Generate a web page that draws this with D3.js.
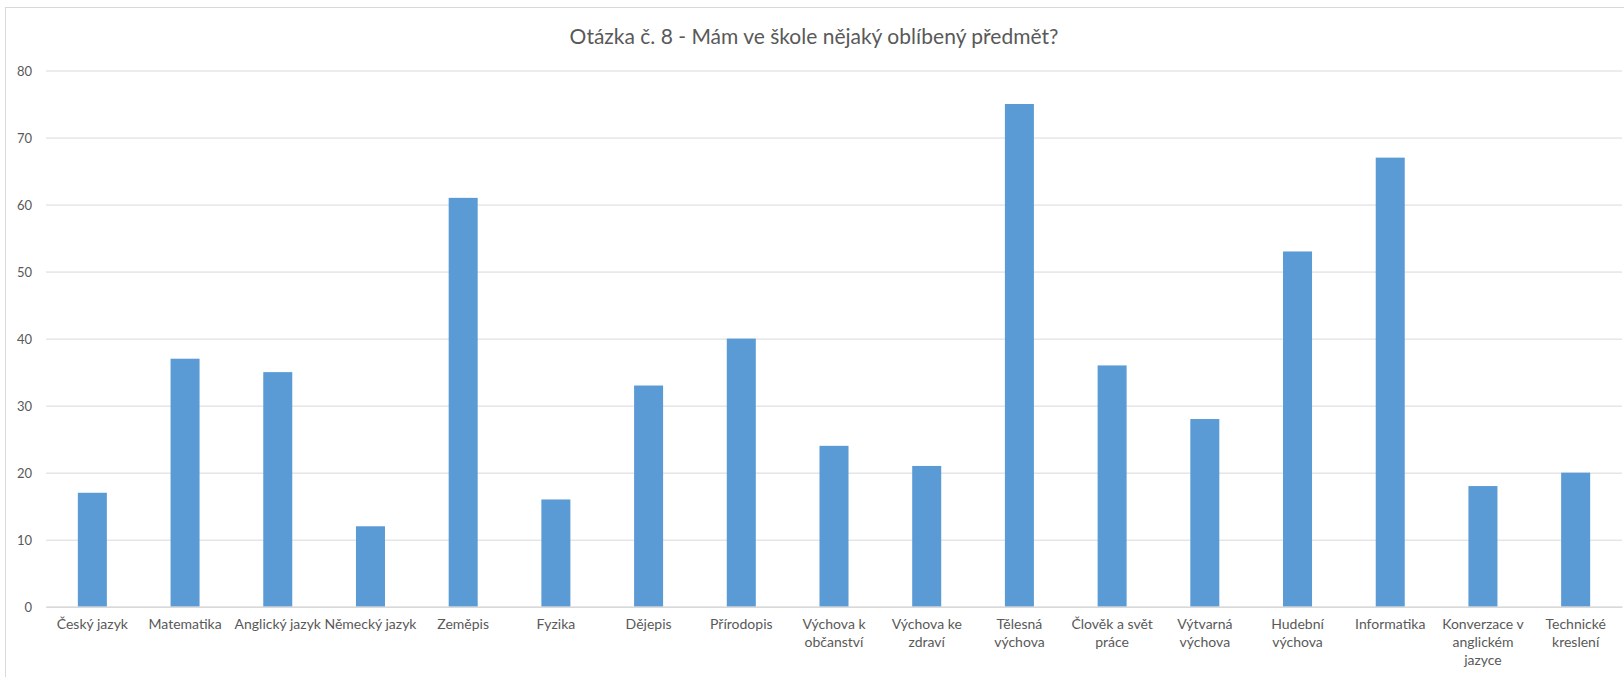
<!DOCTYPE html>
<html>
<head>
<meta charset="utf-8">
<script src="https://cdn.jsdelivr.net/npm/d3@7"></script>
<style>
  html, body { margin: 0; padding: 0; background: #fff; }
  svg { display: block; }
  text { font-family: Lato, "Open Sans", sans-serif; fill: #595959; }
</style>
</head>
<body>
<svg id="chart" width="1624" height="677"></svg>
<script>
const chartTitle = "Otázka č. 8 - Mám ve škole nějaký oblíbený předmět?";
const categories = [
  "Český jazyk", "Matematika", "Anglický jazyk", "Německý jazyk", "Zeměpis",
  "Fyzika", "Dějepis", "Přírodopis", "Výchova k\nobčanství", "Výchova ke\nzdraví",
  "Tělesná\nvýchova", "Člověk a svět\npráce", "Výtvarná\nvýchova", "Hudební\nvýchova",
  "Informatika", "Konverzace v\nanglickém\njazyce", "Technické\nkreslení"
];
const values = [17, 37, 35, 12, 61, 16, 33, 40, 24, 21, 75, 36, 28, 53, 67, 18, 20];
const yTicks = [0, 10, 20, 30, 40, 50, 60, 70, 80];

const svg = d3.select("#chart");
const W = 1624, H = 677;
const margin = { left: 46, right: 2, top: 70.5, bottom: H - 606.7 };

// chart area border
svg.append("rect")
  .attr("x", 5.5).attr("y", 7.5)
  .attr("width", W + 20).attr("height", H + 20)
  .attr("fill", "#fff").attr("stroke", "#d9d9d9").attr("stroke-width", 1);

const x = d3.scaleBand()
  .domain(categories)
  .range([margin.left, W - margin.right])
  .paddingInner(0.687)
  .paddingOuter(0.687 / 2);

const y = d3.scaleLinear()
  .domain([0, 80])
  .range([606.7, 70.5]);

// gridlines
const yAxis = d3.axisLeft(y).tickValues(yTicks).tickSize(-(W - margin.right - margin.left)).tickPadding(14);
const gy = svg.append("g").attr("transform", `translate(${margin.left},0)`).call(yAxis);
gy.select(".domain").remove();
gy.selectAll(".tick line").attr("stroke", "#d9d9d9").attr("stroke-width", 1);
gy.selectAll(".tick text")
  .style("font-size", "13px").attr("fill", "#595959").attr("dy", "0.35em");

// bars
svg.append("g").selectAll("rect.bar")
  .data(values)
  .join("rect")
  .attr("class", "bar")
  .attr("x", (d, i) => x(categories[i]))
  .attr("y", d => y(d))
  .attr("width", x.bandwidth())
  .attr("height", d => y(0) - y(d))
  .attr("fill", "#5b9bd5");

// x axis
const xAxis = d3.axisBottom(x).tickSize(0).tickFormat("");
const gx = svg.append("g").attr("transform", `translate(0,${y(0)})`).call(xAxis);
gx.select(".domain").attr("stroke", "#d9d9d9").attr("stroke-width", 1.5);
gx.selectAll(".tick").each(function(d) {
  const t = d3.select(this).append("text")
    .attr("text-anchor", "middle")
    .style("font-size", "14px")
    .attr("fill", "#595959");
  d.split("\n").forEach((line, k) => {
    t.append("tspan").attr("x", 0).attr("y", 22 + k * 18).text(line);
  });
});

// title
svg.append("text")
  .attr("x", 814).attr("y", 44)
  .attr("text-anchor", "middle")
  .style("font-size", "21px")
  .attr("fill", "#595959")
  .text(chartTitle);
</script>
</body>
</html>
